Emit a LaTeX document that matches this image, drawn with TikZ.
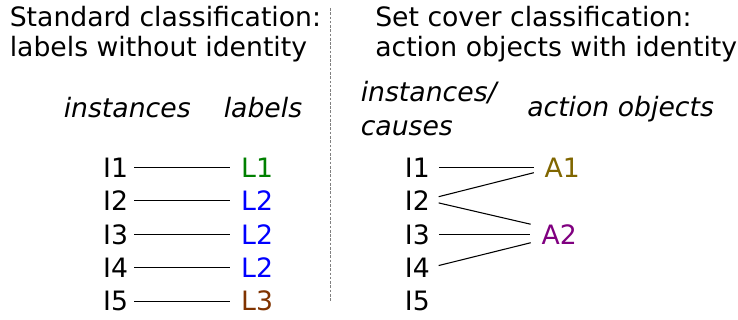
\documentclass[tikz,border=0pt]{standalone}
\usepackage{fontspec}
\setmainfont{DejaVu Sans}
\usepackage{tikz}
\usetikzlibrary{positioning}

\definecolor{lgreen}{RGB}{0,128,0}
\definecolor{lblue}{RGB}{0,0,255}
\definecolor{lbrown}{RGB}{128,51,0}
\definecolor{aolive}{RGB}{128,102,0}
\definecolor{apurple}{RGB}{128,0,128}

\begin{document}
\begin{tikzpicture}[
    x=0.75pt, y=-0.75pt,
    % --- Styles ---
    every node/.style={inner sep=0pt, font=\fontsize{20}{22.9}\selectfont},
    title/.style={anchor=north west, align=left},
    head/.style={font=\fontsize{20}{25.5}\selectfont\itshape},
    inst/.style={text=black},
    lbl/.style={right=84.5pt of #1},
    link/.style={draw=black, line width=0.8pt},
    slink/.style={link, shorten <=4.6pt, shorten >=7.9pt},
    clink/.style={link, shorten <=6.7pt, shorten >=8.2pt},
    sep/.style={draw=black!50, line width=0.75pt, dash pattern=on 2pt off 1.2pt},
]
\useasboundingbox (0,0) rectangle (738,320);

% === Titles ===
\node[title] (stdtitle) at (9.5,5.7) {Standard classification:\\labels without identity};
\node[title] (covtitle) at (375,5.7) {Set cover classification:\\action objects with identity};

% === Separator ===
\coordinate (septop) at (330,8);
\coordinate (sepbot) at (330,302);
\draw[sep] (septop) -- (sepbot);

% === Column heads ===
\node[head, anchor=base west] (hinst) at (63.5,117.3) {instances};
\node[head, anchor=base west] (hlbl) at (223.5,117.3) {labels};
\node[head, anchor=north west, align=left] (hcause) at (360.5,81.4) {instances/\\causes};
\node[head, anchor=base west] (hobj) at (527,116.7) {action objects};

% === Standard: instances and labels ===
\node[inst] (s1) at (115.6,167.5) {I1};
\node[inst] (s2) at (115.6,200.9) {I2};
\node[inst] (s3) at (115.6,234.3) {I3};
\node[inst] (s4) at (115.6,267.7) {I4};
\node[inst] (s5) at (115.6,301.1) {I5};

\node[lbl=s1, text=lgreen] (l1) {L1};
\node[lbl=s2, text=lblue]  (l2) {L2};
\node[lbl=s3, text=lblue]  (l3) {L2};
\node[lbl=s4, text=lblue]  (l4) {L2};
\node[lbl=s5, text=lbrown] (l5) {L3};

\draw[slink] (s1) -- (l1);
\draw[slink] (s2) -- (l2);
\draw[slink] (s3) -- (l3);
\draw[slink] (s4) -- (l4);
\draw[slink] (s5) -- (l5);

% === Set cover: instances and action objects ===
\node[inst] (c1) at (417.3,167.5) {I1};
\node[inst] (c2) at (417.3,200.9) {I2};
\node[inst] (c3) at (417.3,234.3) {I3};
\node[inst] (c4) at (417.3,267.7) {I4};
\node[inst] (c5) at (417.3,301.1) {I5};

\node[text=aolive]  (a1) at (562.3,167.5) {A1};
\node[text=apurple] (a2) at (559.2,234.3) {A2};

\draw[clink] (c1) -- (a1);
\draw[clink] (c2.9) -- (a1.188);
\draw[clink] (c2.east) -- (a2.157);
\draw[clink] (c3) -- (a2);
\draw[clink] (c4.east) -- (a2.198);

\end{tikzpicture}
\end{document}
